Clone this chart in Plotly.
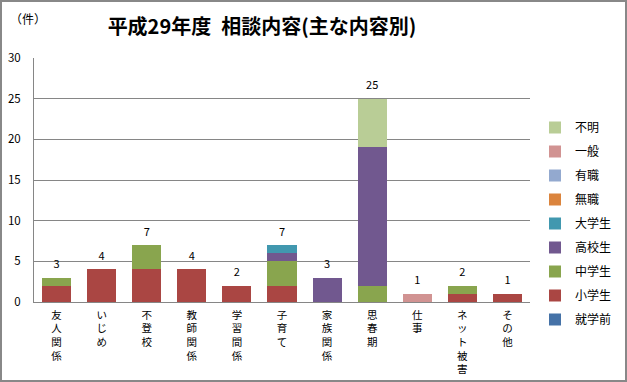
import plotly.graph_objects as go

categories = ["友人関係", "いじめ", "不登校", "教師関係", "学習間係", "子育て",
              "家族関係", "思春期", "仕事", "ネット被害", "その他"]

series_names = ["就学前", "小学生", "中学生", "高校生", "大学生", "無職", "有職", "一般", "不明"]
shugakumae = [0, 0, 0, 0, 0, 0, 0, 0, 0, 0, 0]
shogakusei = [2, 4, 4, 4, 2, 2, 0, 0, 0, 1, 1]
chugakusei = [1, 0, 3, 0, 0, 3, 0, 2, 0, 1, 0]
kokosei    = [0, 0, 0, 0, 0, 1, 3, 17, 0, 0, 0]
daigakusei = [0, 0, 0, 0, 0, 1, 0, 0, 0, 0, 0]
mushoku    = [0, 0, 0, 0, 0, 0, 0, 0, 0, 0, 0]
yushoku    = [0, 0, 0, 0, 0, 0, 0, 0, 0, 0, 0]
ippan      = [0, 0, 0, 0, 0, 0, 0, 0, 1, 0, 0]
fumei      = [0, 0, 0, 0, 0, 0, 0, 6, 0, 0, 0]
series_values = [shugakumae, shogakusei, chugakusei, kokosei, daigakusei,
                 mushoku, yushoku, ippan, fumei]
colors = ["#4572A7", "#AA4643", "#89A54E", "#71588F", "#4198AF",
          "#DB843D", "#93A9CF", "#D19392", "#B9CD96"]

y_ticks = [0, 5, 10, 15, 20, 25, 30]

totals = [sum(v[i] for v in series_values) for i in range(len(categories))]
tick_text = ["<br>".join(list(c)) for c in categories]

FONT = "Noto Sans CJK JP"
fig = go.Figure()
n = len(series_names)
for i, (name, vals, col) in enumerate(zip(series_names, series_values, colors)):
    fig.add_trace(go.Bar(x=categories, y=vals, name=name, marker_color=col,
                         marker_line_width=0, legendgroup=name, legendrank=n - i))

fig.add_trace(go.Scatter(x=categories, y=totals, mode="markers+text",
                         marker=dict(size=9, color="rgba(0,0,0,0)"),
                         text=[str(t) for t in totals], textposition="top center",
                         textfont=dict(size=11, color="#000000", family=FONT),
                         showlegend=False, hoverinfo="skip", cliponaxis=False))

W, H = 627, 382
L, R, T, B = 34, 97, 58, 80
pw, ph = W - L - R, H - T - B

fig.update_layout(
    width=W, height=H, barmode="stack", bargap=0.356,
    margin=dict(l=L, r=R, t=T, b=B, autoexpand=False),
    paper_bgcolor="white", plot_bgcolor="white",
    font=dict(family=FONT, color="#000000"),
    title=dict(text="<b>平成29年度\u2002相談内容(主な内容別)</b>",
               x=262 / W, xanchor="center", xref="container",
               y=1 - 27 / H, yanchor="middle", yref="container",
               font=dict(size=20, family=FONT, color="#000000")),
    legend=dict(x=(535 - L) / pw, xanchor="left", y=(H - B - 113) / ph, yanchor="top",
                traceorder="grouped", tracegroupgap=5,
                font=dict(size=12, family=FONT), bgcolor="rgba(0,0,0,0)",
                itemclick=False),
    showlegend=True,
)
fig.update_yaxes(range=[0, 30], tickvals=y_ticks, showgrid=True, gridcolor="#868686",
                 gridwidth=1, showline=True, linecolor="#868686", linewidth=1,
                 zeroline=False, tickfont=dict(size=11.5, family=FONT),
                 ticks="", ticklabelstandoff=10, fixedrange=True, automargin=False)
fig.update_xaxes(range=[-0.5, len(categories) - 0.5],
                 tickvals=categories, ticktext=tick_text, showline=True,
                 linecolor="#868686", linewidth=1, ticks="", tickangle=0,
                 tickfont=dict(size=10.5, family=FONT), ticklabelstandoff=3,
                 fixedrange=True, automargin=False)

fig.add_annotation(text="（件）", xref="paper", yref="paper",
                   x=(8 - L) / pw, y=(H - B - 18) / ph, xanchor="left", yanchor="middle",
                   showarrow=False, font=dict(size=12, family=FONT, color="#000000"))

fig.add_shape(type="rect", xref="paper", yref="paper",
              x0=(1 - L) / pw, x1=(W - 1 - L) / pw,
              y0=(H - B - (H - 1)) / ph, y1=(H - B - 1) / ph,
              line=dict(color="#888888", width=2), fillcolor="rgba(0,0,0,0)", layer="above")

fig.write_html("out.html", config={"displayModeBar": False},
               post_script="document.body.style.margin='0';document.body.style.overflow='hidden';")
